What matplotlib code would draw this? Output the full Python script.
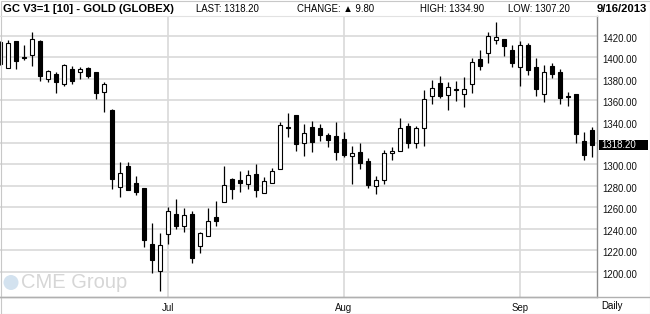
import numpy as np
import pandas as pd
import matplotlib
matplotlib.use("Agg")
import matplotlib.pyplot as plt
from matplotlib.patches import Rectangle, Ellipse
from matplotlib.lines import Line2D
from matplotlib.transforms import ScaledTranslation

# DATA - daily gold futures candles, 31 May .. 16 Sep 2013
holidays = ["2013-07-04", "2013-09-02"]
dates = pd.bdate_range("2013-05-31", "2013-09-16").drop(pd.to_datetime(holidays))

opens = [1414.1, 1389.8, 1415.6, 1400.5, 1402.0, 1415.6, 1379.6, 1384.5, 1375.4, 1389.5,
         1386.0, 1390.1, 1386.0, 1367.4, 1350.9, 1278.6, 1298.6, 1282.4, 1278.0, 1225.7,
         1200.2, 1234.8, 1254.0, 1242.8, 1254.0, 1223.8, 1233.2, 1250.9, 1264.7, 1286.1,
         1285.5, 1281.5, 1290.8, 1273.0, 1282.4, 1295.5, 1335.0, 1346.2, 1319.8, 1334.7,
         1333.8, 1327.2, 1326.3, 1323.5, 1307.6, 1311.6, 1302.9, 1280.2, 1285.2, 1310.4,
         1312.3, 1335.6, 1319.8, 1334.4, 1363.7, 1376.1, 1364.6, 1370.5, 1365.5, 1374.9,
         1398.5, 1403.8, 1416.0, 1417.2, 1406.9, 1390.8, 1411.6, 1390.8, 1365.5, 1392.0,
         1386.4, 1364.2, 1365.8, 1321.9, 1332.0]
highs = [1415.0, 1416.3, 1415.6, 1411.6, 1424.0, 1416.3, 1388.2, 1386.0, 1393.8, 1392.0,
         1391.3, 1391.0, 1386.8, 1376.7, 1351.5, 1302.0, 1302.3, 1289.2, 1278.0, 1245.0,
         1236.0, 1260.5, 1267.7, 1259.0, 1256.5, 1237.2, 1259.0, 1265.9, 1298.6, 1287.4,
         1293.9, 1294.5, 1300.4, 1288.0, 1296.7, 1339.4, 1347.8, 1346.2, 1337.5, 1340.6,
         1337.8, 1329.1, 1339.7, 1330.0, 1317.2, 1320.0, 1305.8, 1288.9, 1313.2, 1316.3,
         1343.4, 1339.0, 1335.9, 1369.6, 1378.9, 1382.6, 1376.7, 1378.0, 1381.7, 1399.4,
         1406.9, 1423.5, 1433.1, 1417.2, 1411.3, 1415.3, 1413.2, 1399.4, 1392.6, 1394.8,
         1389.2, 1368.0, 1365.8, 1330.0, 1334.9]
lows = [1393.0, 1389.8, 1389.5, 1397.6, 1392.3, 1378.2, 1376.7, 1367.0, 1373.6, 1374.9,
        1379.6, 1381.0, 1361.4, 1349.3, 1276.8, 1269.3, 1276.1, 1271.5, 1223.2, 1198.9,
        1182.1, 1225.4, 1240.0, 1237.2, 1208.2, 1217.6, 1233.2, 1242.5, 1264.7, 1267.4,
        1274.0, 1276.8, 1269.9, 1273.0, 1282.4, 1295.5, 1325.9, 1312.9, 1308.2, 1311.9,
        1322.2, 1316.0, 1304.4, 1307.0, 1281.7, 1295.5, 1278.0, 1272.1, 1282.0, 1304.4,
        1312.3, 1315.7, 1315.1, 1317.5, 1356.8, 1361.8, 1351.2, 1359.3, 1354.0, 1367.0,
        1388.5, 1395.0, 1412.8, 1401.6, 1391.3, 1373.6, 1383.6, 1364.2, 1358.6, 1381.0,
        1356.8, 1354.9, 1319.8, 1304.4, 1307.2]
closes = [1393.8, 1413.2, 1396.9, 1399.5, 1417.2, 1382.9, 1387.3, 1376.7, 1392.6, 1377.7,
          1389.2, 1382.9, 1367.0, 1375.2, 1286.1, 1292.3, 1276.1, 1274.5, 1229.7, 1211.1,
          1224.5, 1256.8, 1242.8, 1252.5, 1212.9, 1235.7, 1246.9, 1247.5, 1280.5, 1277.4,
          1283.0, 1290.4, 1276.5, 1284.3, 1293.6, 1336.6, 1334.0, 1318.8, 1329.1, 1320.7,
          1327.8, 1323.1, 1311.4, 1309.1, 1310.4, 1301.0, 1281.1, 1285.5, 1310.7, 1312.6,
          1333.8, 1319.8, 1333.8, 1360.9, 1371.1, 1364.2, 1372.4, 1369.5, 1370.2, 1395.4,
          1391.7, 1419.7, 1418.8, 1410.9, 1394.5, 1411.3, 1388.5, 1370.8, 1386.0, 1384.8,
          1362.4, 1363.2, 1328.7, 1308.4, 1318.2]

price_ticks = list(range(1200, 1421, 20))
month_names = ["Jul", "Aug", "Sep"]
title = "GC V3=1 [10] - GOLD (GLOBEX)"
last_price = 1318.20
change = 9.80
day_high = 1334.90
day_low = 1307.20

# FIGURE (pixel based layout)
W, H = 650, 314
fig = plt.figure(figsize=(W / 100, H / 100), dpi=100)
fig.patch.set_facecolor("white")
ax_left, ax_right, ax_top, ax_bot = 0, 597, 16, 297
ax = fig.add_axes([ax_left / W, (H - ax_bot) / H, (ax_right - ax_left) / W, (ax_bot - ax_top) / H])
ylo, yhi = 1176.2, 1438.7
ax.set_xlim(0, 74.625)
ax.set_ylim(ylo, yhi)

x = np.arange(len(dates))
o = np.array(opens)
h = np.array(highs)
l = np.array(lows)
c = np.array(closes)
up = c >= o

# candles: wicks then bodies
ax.vlines(x, l, h, color="black", linewidth=0.9, zorder=3)
body_lo = np.minimum(o, c)
body_h = np.abs(c - o)
ax.bar(x[up], body_h[up], bottom=body_lo[up], width=0.55, color="white",
       edgecolor="black", linewidth=0.8, zorder=4)
ax.bar(x[~up], body_h[~up], bottom=body_lo[~up], width=0.55, color="black",
       edgecolor="black", linewidth=0.8, zorder=4)

# grid and axes
grid_col = "#d9d9d9"
ax.set_yticks(price_ticks)
ax.set_yticklabels([f"{p:.2f}" for p in price_ticks])
ax.yaxis.tick_right()
ax.tick_params(axis="y", length=0, pad=3.5, labelsize=6.9, labelcolor="#111111")
for lab in ax.get_yticklabels():
    lab.set_fontfamily("Liberation Sans")
    lab.set_transform(lab.get_transform() + ScaledTranslation(0, -2 / 100, fig.dpi_scale_trans))

month_idx = [int(np.argmax(dates.month == m)) for m in (7, 8, 9)]
ax.set_xticks(month_idx)
ax.set_xticklabels(month_names, fontfamily="Liberation Sans")
ax.tick_params(axis="x", length=0, pad=4, labelsize=6.9, labelcolor="#111111")
ax.grid(True, color=grid_col, linewidth=1.2)
ax.set_axisbelow(True)

for side in ("left", "top"):
    ax.spines[side].set_visible(False)
ax.spines["right"].set_color("#8a8a8a")
ax.spines["right"].set_linewidth(1.0)
ax.spines["bottom"].set_color("#b0b0b0")
ax.spines["bottom"].set_linewidth(1.0)

# lines across the whole width
fig.add_artist(Line2D([0, 1], [(H - ax_bot) / H] * 2, color="#b0b0b0", linewidth=1.0))
fig.add_artist(Line2D([0, ax_right / W], [(H - ax_top) / H] * 2, color="#e2e2e2", linewidth=0.8))
fig.add_artist(Rectangle((0.5 / W, 0.5 / H), (W - 1) / W, (H - 1) / H, fill=False,
                         edgecolor="#c8c8c8", linewidth=0.8, transform=fig.transFigure))

# watermark
fig.add_artist(Ellipse((11 / W, (H - 282.5) / H), 15 / W, 15 / H, transform=fig.transFigure,
                       facecolor="#d3e2ef", edgecolor="none"))
fig.text(21 / W, (H - 283) / H, "CME Group", fontsize=14.5, color="#d6d6d6",
         fontfamily="Liberation Sans", va="center", ha="left", zorder=0)

# header
hy = (H - 9) / H
fam = ["Liberation Sans", "DejaVu Sans"]
fig.text(3 / W, hy, title, fontsize=8.1, fontweight="bold", fontfamily=fam, va="center")
fig.text(196 / W, hy, f"LAST: {last_price:.2f}", fontsize=6.9, fontfamily=fam, va="center")
fig.text(297 / W, hy, f"CHANGE: \u25b2 {change:.2f}", fontsize=6.9, fontfamily=fam, va="center")
fig.text(420 / W, hy, f"HIGH: {day_high:.2f}", fontsize=6.9, fontfamily=fam, va="center")
fig.text(508 / W, hy, f"LOW: {day_low:.2f}", fontsize=6.9, fontfamily=fam, va="center")
fig.text(647 / W, hy, dates[-1].strftime("%-m/%-d/%Y"), fontsize=8.1, fontweight="bold",
         fontfamily=fam, va="center", ha="right")

# last price marker
ax_h = (ax_bot - ax_top) / H
yf = (H - ax_bot) / H + (last_price - ylo) / (yhi - ylo) * ax_h
fig.add_artist(Rectangle((599 / W, yf - 5 / H), 49 / W, 10 / H, transform=fig.transFigure,
                         facecolor="black", edgecolor="none"))
fig.text(601 / W, yf, f"{last_price:.2f}", fontsize=6.9, color="white",
         fontfamily=fam, va="center", ha="left")

fig.text(601 / W, (H - 306) / H, "Daily", fontsize=6.9, fontfamily=fam, va="center", ha="left")

fig.savefig("out.png", dpi=100)
